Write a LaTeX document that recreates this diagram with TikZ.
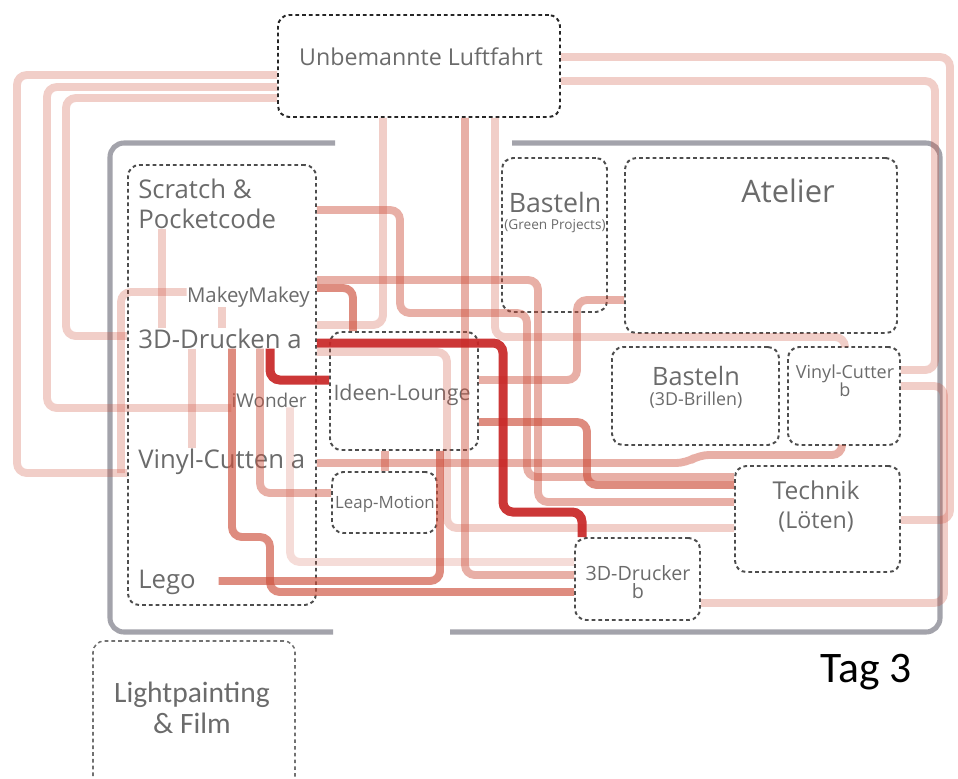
\documentclass[tikz,border=0pt]{standalone}
\usepackage{fontspec}
\setmainfont{Open Sans}
\newfontfamily\calib{Carlito}
\usepackage{tikz}
\usetikzlibrary{positioning,fit}
\definecolor{wallgray}{HTML}{A3A3AB}
\definecolor{dotgray}{HTML}{4D4D4D}
\definecolor{labgray}{HTML}{6B6B6B}
\definecolor{linkred}{RGB}{205,78,58}
\definecolor{hotred}{RGB}{200,38,38}

\begin{document}
\begin{tikzpicture}[
  x=0.025cm, y=-0.025cm,
  zone/.style={draw=dotgray, line width=1.4pt, dash pattern=on 2.6pt off 2.2pt, rounded corners=8pt, inner sep=0pt},
  wall/.style={draw=wallgray, line width=3.6pt, rounded corners=10pt},
  link/.style={draw=linkred, line width=5.6pt, rounded corners=7pt},
  lite/.style={link, draw opacity=0.28},
  midl/.style={link, draw opacity=0.45},
  darklink/.style={link, draw opacity=0.65},
  hot/.style={link, draw=hotred, draw opacity=0.92, line width=6.4pt},
  lbl/.style={text=labgray, inner sep=0pt, anchor=base},
  bigtxt/.style={lbl, font=\fontsize{18.3}{21}\selectfont},
  midtxt/.style={lbl, font=\fontsize{14.5}{17}\selectfont},
  smalltxt/.style={lbl, font=\fontsize{12}{14}\selectfont}
]
\useasboundingbox (0,0) rectangle (958,778);

% rooms
\draw[wall] (335,143) -- (110,143) -- (110,632) -- (333,632);
\draw[wall] (512,143) -- (940,143) -- (940,632) -- (450,632);

% stations
\node[zone, draw=black!85, fit={(278,15) (560,117)}] (luft) {};
\node[zone, fit={(128,165) (316,605)}] (scratch) {};
\node[zone, fit={(330,332) (478,450)}] (lounge) {};
\node[zone, fit={(332,472) (437,533)}] (leap) {};
\node[zone, fit={(502,158) (607,312)}] (green) {};
\node[zone, fit={(625,158) (897,333)}] (atelier) {};
\node[zone, fit={(612,347) (779,445)}] (brillen) {};
\node[zone, fit={(788,347) (900,445)}] (vcb) {};
\node[zone, fit={(735,466) (900,572)}] (technik) {};
\node[zone, fit={(575,538) (700,620)}] (druckb) {};
\node[zone, draw=dotgray!80, line width=1.1pt, fit={(93,641) (295,800)}] (lightp) {};

% labels
\node[lbl, font=\fontsize{16.5}{19}\selectfont] (luftlbl) at (421,65) {Unbemannte Luftfahrt};
\node[bigtxt, anchor=base west] (scr1) at (138,198) {Scratch \&};
\node[bigtxt, anchor=base west] (scr2) at (138,228) {Pocketcode};
\node[midtxt, anchor=base east] (makey) at (310,302) {MakeyMakey};
\node[bigtxt, anchor=base west] (drucka) at (138,348) {3D-Drucken a};
\node[lbl, font=\fontsize{13.5}{16}\selectfont, anchor=base east] (iwonder) at (307,407) {iWonder};
\node[bigtxt, anchor=base west] (vca) at (138,468) {Vinyl-Cutten a};
\node[bigtxt, anchor=base west] (lego) at (138,588) {Lego};
\node[lbl, font=\fontsize{15.2}{18}\selectfont] (loungelbl) at (402,400) {Ideen-Lounge};
\node[smalltxt] (leaplbl) at (385,508) {Leap-Motion};
\node[lbl, font=\fontsize{19}{22}\selectfont] (green1) at (555,212) {Basteln};
\node[lbl, font=\fontsize{9.7}{11}\selectfont] (green2) at (555,229) {(Green Projects)};
\node[lbl, font=\fontsize{22}{25}\selectfont] (atelierlbl) at (788,202) {Atelier};
\node[lbl, font=\fontsize{18}{21}\selectfont] (brillen1) at (696,385) {Basteln};
\node[lbl, font=\fontsize{12.7}{15}\selectfont] (brillen2) at (696,405) {(3D-Brillen)};
\node[lbl, font=\fontsize{12.8}{15}\selectfont] (vcb1) at (845,378) {Vinyl-Cutter};
\node[lbl, font=\fontsize{12.8}{15}\selectfont] (vcb2) at (845,396) {b};
\node[lbl, font=\fontsize{17.5}{20}\selectfont] (technik1) at (816,499) {Technik};
\node[lbl, font=\fontsize{16.5}{19}\selectfont] (technik2) at (816,528) {(Löten)};
\node[lbl, font=\fontsize{14}{16}\selectfont] (druckb1) at (638,580) {3D-Drucker};
\node[lbl, font=\fontsize{14}{16}\selectfont] (druckb2) at (638,598) {b};
\node[lbl, font=\calib\fontsize{21}{24}\selectfont] (lightp1) at (192,702) {Lightpainting};
\node[lbl, font=\calib\fontsize{21}{24}\selectfont] (lightp2) at (192,733) {\& Film};
\node[lbl, text=black, font=\calib\fontsize{31}{34}\selectfont] (tag) at (866,682) {Tag 3};

% links from Unbemannte Luftfahrt
\draw[lite] (luft.west |- 0,75) -- (17,75) -- (17,473) -- (scratch.west |- 0,473);
\draw[lite] (luft.west |- 0,87) -- (47,87) -- (47,408) -- (iwonder.west |- 0,408);
\draw[lite] (luft.west |- 0,98) -- (66,98) -- (66,336) -- (scratch.west |- 0,336);
\draw[lite] (luft.east |- 0,57) -- (950,57) -- (950,520) -- (technik.east |- 0,520);
\draw[lite] (luft.east |- 0,81) -- (935,81) -- (935,370) -- (vcb.east |- 0,370);
\draw[lite] (luft.south -| 383,0) -- (383,325) -- (scratch.east |- 0,325);
\draw[midl] (luft.south -| 465,0) -- (465,575) -- (druckb.west |- 0,575);
\draw[lite] (luft.south -| 495,0) -- (495,337) -- (845,337) -- (vcb.north -| 845,0);

% links inside the left room
\draw[lite] (makey.west |- 0,292) -- (121,292) -- (121,473);
\draw[lite] (scr2.south -| 162,0) -- (drucka.north -| 162,0);
\draw[lite] (makey.south -| 222,0) -- (drucka.north -| 222,0);
\draw[lite] (drucka.south -| 192,0) -- (vca.north -| 192,0);
\draw[darklink] (drucka.south -| 232,0) -- (232,537) -- (270,537) -- (270,592) -- (druckb.west |- 0,592);
\draw[midl] (drucka.south -| 260,0) -- (260,493) -- (leap.west |- 0,493);
\draw[lite, draw opacity=0.2] (iwonder.south -| 290,0) -- (290,562) -- (druckb.west |- 0,562);
\draw[lite] (scratch.east |- 0,352) -- (447,352) -- (447,528) -- (technik.west |- 0,528);
\draw[midl] (scratch.east |- 0,210) -- (400,210) -- (400,313) -- (527,313) -- (527,477) -- (technik.west |- 0,477);
\draw[midl] (scratch.east |- 0,280) -- (538,280) -- (538,502) -- (technik.west |- 0,502);
\draw[darklink] (scratch.east |- 0,288) -- (353,288) -- (lounge.north -| 353,0);
\draw[midl] (scratch.east |- 0,463) -- (686,463) -- (699,455) -- (842,455) -- (vcb.south -| 842,0);
\draw[darklink] ([xshift=16pt]lego.east |- 0,581) -- (440,581) -- (lounge.south -| 440,0);
\draw[midl] (lounge.south -| 385,0) -- (leap.north -| 385,0);

% links between the right stations
\draw[midl] (atelier.west |- 0,300) -- (577,300) -- (577,380) -- (lounge.east |- 0,380);
\draw[darklink] (lounge.east |- 0,422) -- (587,422) -- (587,485) -- (technik.west |- 0,485);
\draw[lite] (vcb.east |- 0,386) -- (944,386) -- (944,603) -- (druckb.east |- 0,603);

% main route
\draw[hot] (drucka.south -| 270,0) -- (270,380) -- (lounge.west |- 0,380);
\draw[hot] (scratch.east |- 0,343) -- (503,343) -- (503,512) -- (582,512) -- (druckb.north -| 582,0);
\end{tikzpicture}
\end{document}
